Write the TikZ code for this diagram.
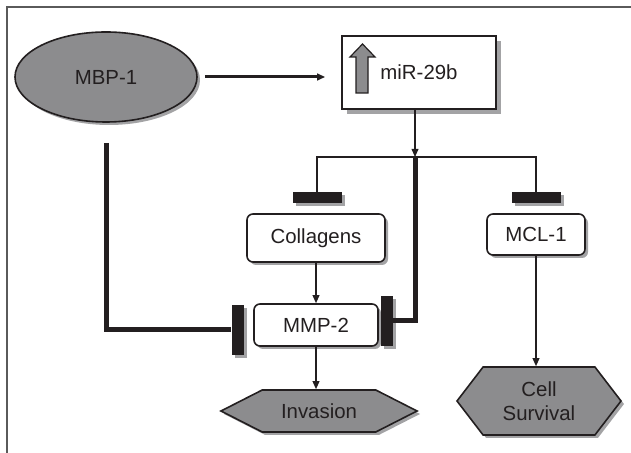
\documentclass[tikz,border=0pt]{standalone}
\usepackage{fontspec}
\setmainfont{Liberation Sans}
\usetikzlibrary{positioning,arrows.meta,shapes.geometric,shapes.symbols,shadows}
\definecolor{ink}{HTML}{231F20}
\definecolor{fillgray}{HTML}{8C8C8E}
\definecolor{shadowgray}{HTML}{A3A3A5}
\definecolor{framegray}{HTML}{5A5A5A}

\begin{document}
\begin{tikzpicture}[x=0.5pt, y=-0.5pt,
  every node/.style={font=\fontsize{10.2}{12}\selectfont, text=ink},
  shad/.style={drop shadow={shadow xshift=1.5pt, shadow yshift=-1.5pt, fill=shadowgray, opacity=1}},
  box/.style={shad, draw=ink, fill=white, line width=0.8pt, rounded corners=3pt, inner sep=0pt},
  hexa/.style={shad, signal, signal to=east and west, draw=ink, fill=fillgray, line width=0.8pt, inner sep=0pt, align=center},
  tbar/.style={shad, fill=ink, inner sep=0pt},
  arr/.style={-{Triangle[length=4pt,width=3.4pt]}, line width=0.65pt, draw=ink},
  thickarr/.style={arr, line width=1.5pt},
  inh/.style={line width=2.5pt, draw=ink}]
\useasboundingbox (0,0) rectangle (631,453);
\draw[framegray, line width=1pt] (7,7) rectangle (700,520);
% top row
\node[ellipse, shad, draw=ink, fill=fillgray, line width=0.8pt, minimum width=91pt, minimum height=45pt] (mbp) at (106,77) {MBP-1};
\node[draw=ink, fill=white, line width=0.9pt, minimum width=77pt, minimum height=36.5pt,
  drop shadow={shadow xshift=2.5pt, shadow yshift=-2.5pt, fill=shadowgray, opacity=1}] (mir) at (419,72.5) {miR-29b};
\draw[fill=fillgray, draw=ink, line width=0.6pt] (356,93) -- (356,57) -- (350,57) -- (362.5,44) -- (375,57) -- (368,57) -- (368,93) -- cycle;
\draw[thickarr] ([xshift=3.5pt]mbp.east) -- ([xshift=-8pt]mbp.east -| mir.west);
\coordinate (hub) at (415,157);
\draw[arr] (mir.south -| hub) -- (hub);
% targets of miR-29b
\node[tbar, minimum width=24.5pt, minimum height=5.5pt] (barC) at (317,198) {};
\node[tbar, minimum width=24.5pt, minimum height=5.5pt] (barM) at (536,198) {};
\draw[ink, line width=0.65pt] (barC.north) -- (barC.north |- hub) -- (barM.north |- hub) -- (barM.north);
\node[box, minimum width=69pt, minimum height=24pt] (col) at (316,238) {Collagens};
\node[box, minimum width=49pt, minimum height=20.5pt] (mcl) at (536,234.5) {MCL-1};
\node[box, minimum width=62pt, minimum height=21pt] (mmp) at (316,325) {MMP-2};
% inhibition of MMP-2
\node[tbar, minimum width=6pt, minimum height=25pt] (barL) at (237.5,330) {};
\node[tbar, minimum width=6pt, minimum height=25pt] (barR) at (387,321) {};
\draw[inh] ([yshift=-10pt]mbp.south) |- (barL.west);
\draw[inh] (hub) |- (barR.east);
% outcomes
\node[hexa, minimum width=98pt, minimum height=21pt, signal pointer angle=54] (inv) at (319,411) {Invasion};
\node[hexa, minimum width=82pt, minimum height=34pt, signal pointer angle=105] (surv) at (539,401) {Cell\\Survival};
\draw[arr] (col.south) -- (col.south |- mmp.north);
\draw[arr] (mmp.south) -- (mmp.south |- inv.north);
\draw[arr] (mcl.south) -- (mcl.south |- surv.north);
\end{tikzpicture}
\end{document}
